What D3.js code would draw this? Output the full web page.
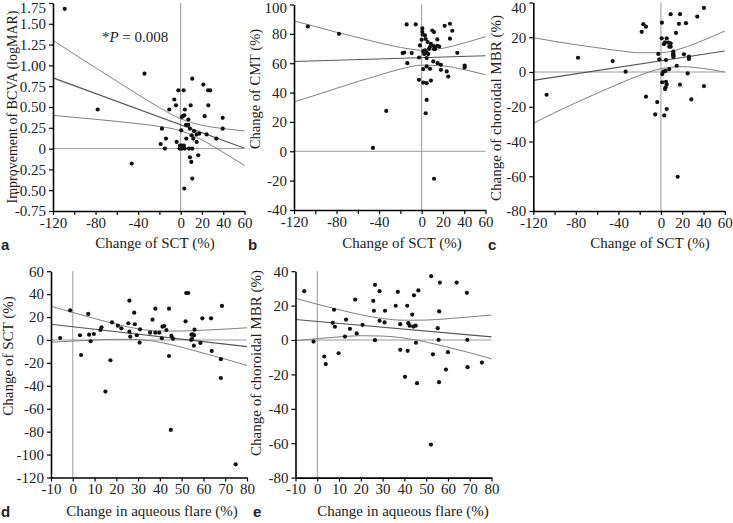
<!DOCTYPE html>
<html>
<head>
<meta charset="utf-8">
<script src="https://cdn.jsdelivr.net/npm/d3@7"></script>
<style>
  html, body { margin: 0; padding: 0; background: #fff; }
  svg { display: block; }
  text { font-family: "Liberation Serif", "Times New Roman", serif; fill: #222; }
</style>
</head>
<body>
<svg id="chart" width="733" height="523"></svg>
<script>
// ---------------- DATA ----------------
// Panel a: Change of SCT (%) vs Improvement of BCVA (logMAR)
const aPoints = [
  [-109, 1.68], [-34, 0.90], [-78, 0.47], [-46, -0.18],
  [10.9, 0.84], [21.3, 0.77], [-2.2, 0.70], [2.8, 0.70], [25.7, 0.70], [27.8, 0.70],
  [-6, 0.59], [-4.4, 0.52], [-10.7, 0.47], [4, 0.47], [9.4, 0.52], [26, 0.52],
  [2, 0.39], [1, 0.38], [3.4, 0.40], [7.2, 0.35], [22.5, 0.39], [39.5, 0.37],
  [5, 0.285], [7.2, 0.285], [-17.6, 0.24], [0.6, 0.22], [8.7, 0.24], [12.5, 0.21], [39.5, 0.24],
  [15, 0.17], [17.5, 0.18], [10.3, 0.16], [24.4, 0.17], [33.5, 0.12], [-13.8, 0.12], [5.3, 0.12], [11.9, 0.12],
  [15, 0.08], [-3.8, 0.08], [-18.8, 0.055], [-14.8, 0], [-0.7, 0.035], [1, 0.035], [3, 0.035],
  [-1, 0], [1.2, 0], [3.8, 0], [7.8, 0], [10.9, 0], [16.5, -0.08], [8.7, -0.105], [10, -0.16], [10.9, -0.36], [3.4, -0.48]
];
const sctBandX = [-120, -100, -80, -60, -40, -20, 0, 20, 40, 60];
const aFitX = [-120, 60];
const aFit = [0.85, 0.004];
const aUpper = [1.30, 1.136, 0.972, 0.809, 0.649, 0.493, 0.358, 0.280, 0.241, 0.212];
const aLower = [0.40, 0.376, 0.352, 0.327, 0.299, 0.267, 0.214, 0.104, -0.045, -0.204];

// Panel b: Change of SCT (%) vs Change of CMT (%)
const bPoints = [
  [-107, 85], [-77.7, 80], [-45.8, 2.3], [11.6, -18.7], [-33.3, 27.5],
  [-14.1, 86.4], [-5.6, 86.4], [0.6, 83.7], [0.6, 81.4], [0.9, 79.6], [3.1, 78.9], [10, 82.3], [11.6, 81.2],
  [21.6, 85.5], [26.6, 86.9], [28.8, 82.1], [26.6, 76.7],
  [3.8, 76.5], [0, 76], [14.7, 76.2], [-1.6, 72.1], [5.6, 74.4], [8.7, 73.2], [10.9, 71.9], [12.8, 71],
  [14.7, 71.9], [16.5, 71.4], [6.9, 69.8], [7.8, 71], [11.6, 69.6], [12.6, 69.6],
  [1.5, 68], [3.1, 68.7], [4.7, 67.3], [2.4, 66.2], [6.2, 66.2], [4.7, 63.5], [-2.5, 63.9],
  [-17.9, 66.9], [-16.4, 67.3], [-9.4, 66.9], [33.5, 67.1], [-13.5, 60], [10.9, 61.2], [15, 60], [18.1, 58.9],
  [1.5, 56], [7.8, 56.2], [4.7, 57.8], [18.1, 55.5], [23.5, 54.4], [25, 50.9], [40.4, 58.4], [40.4, 57.1],
  [-2.5, 48.7], [1.5, 46.8], [4.7, 46.4], [8.7, 48.2], [4.7, 35], [3.8, 25.9]
];
const bFitX = [-120, 60];
const bFit = [61.2, 65.1];
const bUpper = [88.8, 85.0, 81.1, 77.5, 73.9, 70.8, 68.9, 70.2, 73.8, 78.1];
const bLower = [33.6, 38.2, 42.9, 47.5, 51.9, 56.0, 58.7, 58.2, 55.6, 52.1];

// Panel c: Change of SCT (%) vs Change of choroidal MBR (%)
const cPoints = [
  [40.4, 36.9], [9.1, 33.3], [17.9, 33.3], [34.1, 31.9], [-16.6, 27.5], [-14.1, 26.1], [-18.1, 23.1],
  [0.9, 28.4], [16.9, 27.7], [23.5, 28.1], [14.1, 22.5], [0.7, 19.4], [5.4, 19.4], [3.8, 17.1], [6.9, 16.9],
  [9.1, 16.5], [2.8, 16], [7.8, 14.6], [9.1, 14.6],
  [11.6, 11.7], [11.6, 10.8], [11.3, 9.9], [11.9, 9.4], [11.6, 8.6], [-2.5, 10.4], [-1.6, 7.3], [4.7, 6.9],
  [21.6, 10.2], [26.3, 8.8], [26.3, 7.5],
  [-33.2, 0.2], [7.8, 1.7], [14.8, 3.6], [2.2, 0.2], [4.4, 0.6], [1.2, -1.2], [25.1, -0.8], [1.2, -5.9],
  [4.7, -5.6], [5.4, -7.1], [4.4, -8.8], [3.8, -9.8], [17.9, -7.3], [40.4, -8.1], [-14.1, -14.2],
  [28.5, -15.8], [-3.5, -17.3], [5.4, -21.3], [-5.4, -24.4], [3.1, -25],
  [-78, 8.2], [-45.4, 6.3], [-107.5, -13.1], [15.7, -60.3]
];
const cFitX = [-120, 60];
const cFit = [-4.8, 12.1];
const cUpper = [19.8, 17.6, 15.7, 14.0, 12.3, 11.1, 11.1, 13.7, 18.3, 23.6];
const cLower = [-29.5, -23.4, -17.7, -12.2, -6.9, -1.9, 1.9, 3.1, 2.0, 0.0];

// Panel d: Change in aqueous flare (%) vs Change of SCT (%)
const dPoints = [
  [-5.8, 1.7], [-1.2, 25.9], [3.3, 4.1], [3.8, -13.1], [7.1, 22.7], [7.5, 4.6], [8.2, -1.1], [9.7, 5.2],
  [12.7, 8.7], [13.2, 11.1], [17.3, -17.7], [18, 15.4], [20.7, 12.5], [22.3, 10.2], [25.5, 14.6], [26, 7.2],
  [26, 34.3], [26.4, 2.9], [28.2, 23.8], [28.5, 13.7], [29.4, 4.1], [30.9, 9.3], [30.7, -2.3],
  [35.5, 6.4], [37.9, 6.4], [39.7, 6.4], [36.6, 17.7], [37.9, 27.3], [41.2, 11.6], [42, 12.2], [43, 8.7],
  [40.9, 1.5], [44.2, 27.3], [44.2, -14], [45.3, 3.5], [46, 1.1], [52.1, 41], [53, 41], [51.8, 16.3],
  [54.5, 4.6], [55.1, 5], [55.7, 4.1], [54.8, 0.9], [54.4, 0], [55.9, 9], [55.6, -5], [58.6, -2.6],
  [59.5, 18.9], [63.5, 18.9], [63.8, -9.6], [68.5, 29.7], [68, -16.8], [68, -33.2],
  [15, -45], [45, -78.5], [74.8, -108.5]
];
const flareBandX = [-10, 0, 10, 20, 30, 40, 50, 60, 70, 80];
const dFitX = [-10, 80];
const dFit = [13.7, -5.8];
const dUpper = [29.4, 24.0, 18.7, 13.8, 9.7, 7.8, 7.8, 8.5, 9.5, 10.6];
const dLower = [-2.0, -1.0, -0.1, 0.6, 0.3, -2.0, -6.4, -11.5, -16.7, -22.2];

// Panel e: Change in aqueous flare (%) vs Change of choroidal MBR (%)
const ePoints = [
  [-6, 28.4], [-1.7, -0.9], [3.2, -9.6], [3.9, -14], [7.7, 17.6], [7.1, 10], [8.1, 7.7], [9.8, -7.7],
  [12.7, 2], [13.2, 11.9], [15, 6.5], [17.4, 23.5], [18.1, 3.8], [20.8, 8.8], [25.7, 22.8], [26, 17],
  [26.5, 32.1], [26.5, -0.1], [28.6, 28.4], [28.6, 11.2], [30.9, 10.2], [31.1, 17], [36, 19.9], [37, 28],
  [38.1, 9.2], [38.1, -5.7], [41.3, 19.9], [41.5, -6.3], [41.8, 9.8], [42.4, 8.3], [40.3, -21.4],
  [43.6, 14.8], [44.4, 26], [44.1, 7.8], [45.2, 8.3], [46.4, 28.8], [45.3, -1.6], [45.8, -25.1],
  [52.3, 37.1], [53.1, -8.3], [56.3, 33.4], [56, 16.6], [55.3, 6.9], [55.7, 0.1], [55.9, -24.5],
  [60, -7.1], [59.1, -17.2], [64, 33.4], [68.7, 27.4], [68.9, 0.1], [69, -15.8], [75.6, -13.1], [52.2, -60.8]
];
const eFitX = [-10, 80];
const eFit = [11.9, 1.8];
const eUpper = [24.2, 20.8, 17.6, 14.7, 12.5, 11.5, 11.6, 12.4, 13.4, 14.5];
const eLower = [-0.4, 0.8, 1.8, 2.5, 2.3, 1.1, -1.2, -4.2, -7.4, -10.9];

// Axis tick values and labels
const sctTicks = [-120, -100, -80, -60, -40, -20, 0, 20, 40, 60];
const sctTickLabels = ["-120", "", "-80", "", "-40", "", "0", "20", "40", "60"];
const flareTicks = [-10, 0, 10, 20, 30, 40, 50, 60, 70, 80];
const flareTickLabels = ["-10", "0", "10", "20", "30", "40", "50", "60", "70", "80"];
const bcvaTicks = [1.75, 1.5, 1.25, 1.0, 0.75, 0.5, 0.25, 0, -0.25, -0.5, -0.75];
const bcvaTickLabels = ["1.75", "1.50", "1.25", "1.00", "0.75", "0.50", "0.25", "0", "-0.25", "-0.50", "-0.75"];
const cmtTicks = [100, 80, 60, 40, 20, 0, -20, -40];
const mbrTicks = [40, 20, 0, -20, -40, -60, -80];
const sctYTicks = [60, 40, 20, 0, -20, -40, -60, -80, -100, -120];

// ---------------- DRAWING ----------------
const svg = d3.select("#chart");

function panel(cfg) {
  const x = d3.scaleLinear().domain(cfg.xDomain).range(cfg.xRange);
  const y = d3.scaleLinear().domain(cfg.yDomain).range(cfg.yRange);
  const g = svg.append("g");

  // zero reference lines
  g.append("line")
    .attr("x1", x(0)).attr("x2", x(0))
    .attr("y1", y(cfg.yDomain[1])).attr("y2", y(cfg.yDomain[0]))
    .attr("stroke", "#9a9a9a").attr("stroke-width", 1);
  g.append("line")
    .attr("x1", x(cfg.xDomain[0])).attr("x2", x(cfg.xDomain[1]))
    .attr("y1", y(0)).attr("y2", y(0))
    .attr("stroke", "#9a9a9a").attr("stroke-width", 1);

  // regression + confidence band lines
  const line = d3.line().x(d => x(d[0])).y(d => y(d[1])).curve(d3.curveMonotoneX);
  const up = cfg.bandX.map((v, i) => [v, cfg.upper[i]]);
  const lo = cfg.bandX.map((v, i) => [v, cfg.lower[i]]);
  const fit = cfg.fitX.map((v, i) => [v, cfg.fit[i]]);
  [up, lo].forEach(arr => g.append("path").attr("d", line(arr))
    .attr("fill", "none").attr("stroke", "#808080").attr("stroke-width", 1));
  g.append("path").attr("d", d3.line().x(d => x(d[0])).y(d => y(d[1]))(fit))
    .attr("fill", "none").attr("stroke", "#555").attr("stroke-width", 1.1);

  // points
  g.selectAll("circle.pt").data(cfg.points).enter().append("circle")
    .attr("class", "pt")
    .attr("cx", d => x(d[0])).attr("cy", d => y(d[1]))
    .attr("r", 2.1).attr("fill", "#111");

  // axes
  const xAxis = d3.axisBottom(x).tickValues(cfg.xTicks)
    .tickFormat((d, i) => cfg.xTickLabels[i]).tickSize(4).tickSizeOuter(0).tickPadding(2);
  const yAxis = d3.axisLeft(y).tickValues(cfg.yTicks)
    .tickFormat((d, i) => cfg.yTickLabels[i]).tickSize(4).tickSizeOuter(0).tickPadding(3);
  const gx = g.append("g").attr("transform", `translate(0,${cfg.yRange[0]})`).call(xAxis);
  const gy = g.append("g").attr("transform", `translate(${cfg.xRange[0]},0)`).call(yAxis);
  [gx, gy].forEach(a => {
    a.select(".domain").attr("stroke", "#000").attr("stroke-width", 1.6);
    a.selectAll(".tick line").attr("stroke", "#000").attr("stroke-width", 1.2);
    a.selectAll(".tick text").attr("fill", "#222")
      .style("font-family", '"Liberation Serif", serif').style("font-size", "15px");
  });
  // keep the top y tick label inside the picture (as in the original)
  gy.selectAll(".tick").each(function (d) {
    const yy = y(d);
    if (yy < 8) d3.select(this).select("text").attr("dy", (0.32 + (8 - yy) / 15) + "em");
  });

  // axis titles
  g.append("text")
    .attr("x", cfg.xTitlePos[0]).attr("y", cfg.xTitlePos[1])
    .attr("text-anchor", "middle").style("font-size", "15px")
    .text(cfg.xTitle);
  g.append("text")
    .attr("transform", `translate(${cfg.yTitlePos[0]},${cfg.yTitlePos[1]}) rotate(-90)`)
    .attr("text-anchor", "middle").attr("dominant-baseline", "central")
    .style("font-size", cfg.yTitleSize + "px")
    .text(cfg.yTitle);
  // panel letter
  g.append("text")
    .attr("x", cfg.letterPos[0]).attr("y", cfg.letterPos[1])
    .style("font-family", '"Liberation Sans", Arial, sans-serif')
    .style("font-weight", "bold").style("font-size", "15px").attr("fill", "#111")
    .text(cfg.letter);
  return { x, y, g };
}

const pa = panel({
  points: aPoints, xDomain: [-120, 60], xRange: [53, 244.5], yDomain: [-0.75, 1.75], yRange: [211, 3],
  bandX: sctBandX, upper: aUpper, lower: aLower, fitX: aFitX, fit: aFit,
  xTicks: sctTicks, xTickLabels: sctTickLabels, yTicks: bcvaTicks, yTickLabels: bcvaTickLabels,
  xTitle: "Change of SCT (%)", xTitlePos: [155, 248],
  yTitle: "Improvement of BCVA (logMAR)", yTitleSize: 14, yTitlePos: [12, 107],
  letter: "a", letterPos: [1, 250]
});
// P-value annotation
const pt = pa.g.append("text").attr("x", pa.x(-74)).attr("y", 42).style("font-size", "15px");
pt.append("tspan").text("*");
pt.append("tspan").style("font-style", "italic").text("P");
pt.append("tspan").text(" = 0.008");

panel({
  points: bPoints, xDomain: [-120, 60], xRange: [294, 485.5], yDomain: [-40, 100], yRange: [210, 4.5],
  bandX: sctBandX, upper: bUpper, lower: bLower, fitX: bFitX, fit: bFit,
  xTicks: sctTicks, xTickLabels: sctTickLabels, yTicks: cmtTicks, yTickLabels: cmtTicks.map(String),
  xTitle: "Change of SCT (%)", xTitlePos: [402, 248],
  yTitle: "Change of CMT (%)", yTitleSize: 14.5, yTitlePos: [255, 89],
  letter: "b", letterPos: [248, 250]
});

panel({
  points: cPoints, xDomain: [-120, 60], xRange: [533.3, 724.8], yDomain: [-80, 40], yRange: [211, 2.5],
  bandX: sctBandX, upper: cUpper, lower: cLower, fitX: cFitX, fit: cFit,
  xTicks: sctTicks, xTickLabels: sctTickLabels, yTicks: mbrTicks, yTickLabels: mbrTicks.map(String),
  xTitle: "Change of SCT (%)", xTitlePos: [650, 248],
  yTitle: "Change of choroidal MBR (%)", yTitleSize: 15, yTitlePos: [496, 108],
  letter: "c", letterPos: [488, 250]
});

panel({
  points: dPoints, xDomain: [-10, 80], xRange: [51, 247], yDomain: [-120, 60], yRange: [477.5, 271.2],
  bandX: flareBandX, upper: dUpper, lower: dLower, fitX: dFitX, fit: dFit,
  xTicks: flareTicks, xTickLabels: flareTickLabels, yTicks: sctYTicks, yTickLabels: sctYTicks.map(String),
  xTitle: "Change in aqueous flare (%)", xTitlePos: [152, 516],
  yTitle: "Change of SCT (%)", yTitleSize: 15, yTitlePos: [8, 356],
  letter: "d", letterPos: [1, 517]
});

panel({
  points: ePoints, xDomain: [-10, 80], xRange: [295.5, 491.5], yDomain: [-80, 40], yRange: [477.6, 271.2],
  bandX: flareBandX, upper: eUpper, lower: eLower, fitX: eFitX, fit: eFit,
  xTicks: flareTicks, xTickLabels: flareTickLabels, yTicks: mbrTicks, yTickLabels: mbrTicks.map(String),
  xTitle: "Change in aqueous flare (%)", xTitlePos: [403, 516],
  yTitle: "Change of choroidal MBR (%)", yTitleSize: 15, yTitlePos: [256, 363],
  letter: "e", letterPos: [253, 517]
});
</script>
</body>
</html>
